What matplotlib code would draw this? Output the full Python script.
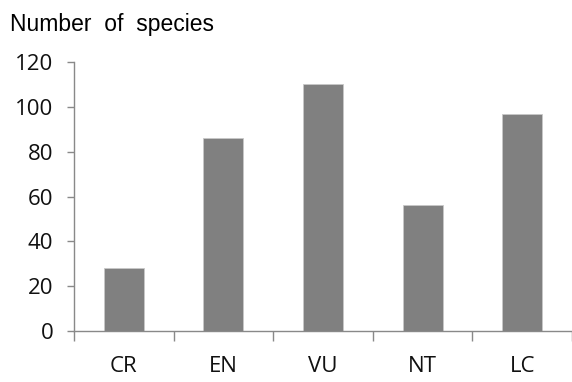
import matplotlib
matplotlib.use("Agg")
import matplotlib.pyplot as plt
import numpy as np

categories = ["CR", "EN", "VU", "NT", "LC"]
values = [28, 86, 110, 56, 97]
yticks = [0, 20, 40, 60, 80, 100, 120]

fig = plt.figure(figsize=(5.72, 3.82), dpi=100)
ax = fig.add_axes([74/572, 1-331/382, 498/572, (331-62)/382])

x = np.arange(len(categories))
ax.bar(x, values, width=0.4, color="#808080", edgecolor="#c8c8c8", linewidth=0.6, zorder=2)

ax.set_xlim(-0.5, len(categories) - 0.5)
ax.set_ylim(0, 120)
ax.set_yticks(yticks)
ax.set_yticklabels([str(v) for v in yticks], fontsize=16, family="Open Sans",
                   fontweight="medium", color="#111111")
ax.set_xticks(x)
ax.set_xticklabels(categories, fontsize=16, family="Open Sans",
                   fontweight="medium", color="#111111")
ax.tick_params(axis="x", which="major", length=0, pad=18)
ax.set_xticks(np.arange(-0.5, len(categories)), minor=True)
ax.tick_params(axis="x", which="minor", length=7.5, width=1, color="#898989", direction="out")
ax.tick_params(axis="y", which="major", length=5, width=1, color="#898989", direction="out", pad=10)

for s in ["top", "right"]:
    ax.spines[s].set_visible(False)
for s in ["left", "bottom"]:
    ax.spines[s].set_color("#898989")
    ax.spines[s].set_linewidth(1)

fig.text(10/572, 1-24/382, "Number  of  species", fontsize=16.5, family="Liberation Sans",
         va="center", ha="left", color="black")

fig.savefig("out.png", dpi=100)
